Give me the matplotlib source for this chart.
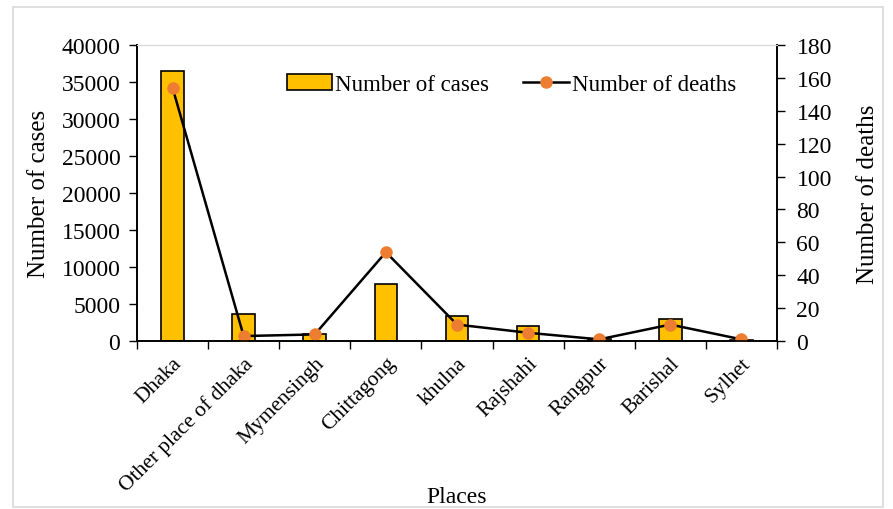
import numpy as np
import matplotlib.pyplot as plt
from matplotlib.patches import Rectangle

places = ['Dhaka', 'Other place of dhaka', 'Mymensingh', 'Chittagong', 'khulna',
          'Rajshahi', 'Rangpur', 'Barishal', 'Sylhet']
cases = [36500, 3650, 950, 7700, 3380, 2000, 250, 2970, 150]
deaths = [154, 3, 4, 54, 10, 5, 1, 10, 1]

plt.rcParams['font.family'] = ['Liberation Serif', 'DejaVu Serif']
plt.rcParams['font.size'] = 13

fig = plt.figure(figsize=(8.93, 5.10), dpi=100)
ax = fig.add_axes([137/893, 1 - 342/510, 640/893, 296/510])
ax2 = ax.twinx()

x = np.arange(len(places))
ax.bar(x, cases, 0.32, color='#FFC000', edgecolor='black', linewidth=1.2,
       label='Number of cases', zorder=2)
ax2.plot(x, deaths, color='black', linewidth=1.8, marker='o', markersize=8,
         markerfacecolor='#ED7D31', markeredgecolor='#ED7D31', label='Number of deaths')

ax.set_xlim(-0.5, len(places) - 0.5)
ax.set_ylim(0, 40000)
ax.set_yticks(np.arange(0, 40001, 5000))
ax2.set_ylim(0, 180)
ax2.set_yticks(np.arange(0, 181, 20))

# category ticks between the bars, labels in the middle
ax.set_xticks(np.arange(len(places) + 1) - 0.5)
ax.set_xticklabels([])
ax.set_xticks(x, minor=True)
ax.set_xticklabels(places, minor=True, rotation=45, ha='right', rotation_mode='anchor')
ax.tick_params(axis='x', which='minor', length=0, pad=9, labelsize=15.5)
ax.tick_params(axis='x', which='major', length=6, width=1)
ax.tick_params(axis='y', length=6, width=1, labelsize=17, pad=6)
ax2.tick_params(axis='y', length=6, width=1, labelsize=17, pad=8)

for a in (ax, ax2):
    a.spines['top'].set_color('#D9D9D9')
    a.spines['left'].set_linewidth(1.2)
    a.spines['right'].set_linewidth(1.2)
    a.spines['bottom'].set_linewidth(1.2)

ax.set_ylabel('Number of cases', fontsize=18, labelpad=8)
ax2.set_ylabel('Number of deaths', fontsize=18, labelpad=18)
ax.set_xlabel('Places', fontsize=17)
ax.xaxis.label.set_va('center')
ax.xaxis.set_label_coords(0.5, -0.525)

h1, l1 = ax.get_legend_handles_labels()
h2, l2 = ax2.get_legend_handles_labels()
ax2.legend(h1 + h2, l1 + l2, loc='center', bbox_to_anchor=(0.585, 0.868), ncol=2,
           frameon=False, fontsize=16.5, handlelength=2.0, columnspacing=1.5,
           handletextpad=0.12)

fig.patches.append(Rectangle((13/893, 2/510), 870/893, 1 - 10/510, transform=fig.transFigure,
                             fill=False, edgecolor='#D9D9D9', linewidth=1.2))

fig.savefig('out.png', dpi=100)
